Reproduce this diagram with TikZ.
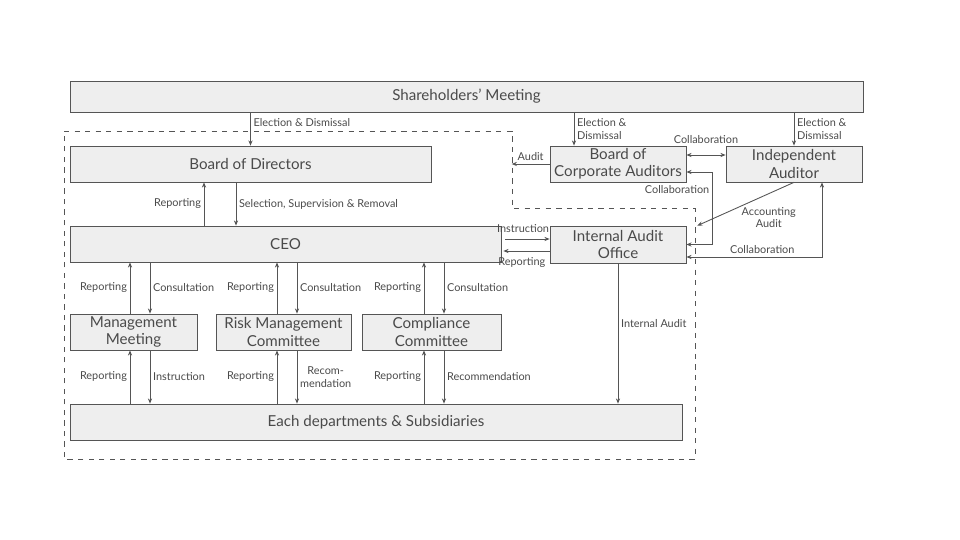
\documentclass[tikz,border=0pt]{standalone}
\usepackage{fontspec}
\setmainfont{Lato}
\usetikzlibrary{arrows.meta,positioning,calc}

\definecolor{boxfill}{HTML}{EEEEEE}
\definecolor{boxline}{HTML}{555555}
\definecolor{inkgray}{HTML}{4A4A4A}

\tikzset{
  box/.style={rectangle, draw=boxline, fill=boxfill, text=inkgray, align=center,
    inner sep=1pt, font=\fontsize{8.6}{9.8}\selectfont, minimum height=0.72cm},
  lbl/.style={text=inkgray, font=\fontsize{6.2}{7}\selectfont, inner sep=1.5pt, align=left},
  arr/.style={draw=boxline, line width=0.5pt, -{Stealth[length=3pt,width=2.4pt]}},
  arrboth/.style={draw=boxline, line width=0.5pt, {Stealth[length=3pt,width=2.4pt]}-{Stealth[length=3pt,width=2.4pt]}}
}

\begin{document}
\begin{tikzpicture}[x=0.02cm, y=-0.02cm]
        \useasboundingbox (0,0) rectangle (960,540);

        % Governance boundary
        \draw[boxline, dashed, line width=0.5pt] (64,131) -- (512,131) -- (512,208) -- (695,208) -- (695,459) -- (64,459) -- cycle;

        % Boxes
        \node (share) [box, minimum width=15.86cm, minimum height=0.62cm] at (466.5,96.5) {Shareholders' Meeting};
        \node (bod) [box, minimum width=7.22cm] at (250.5,164) {Board of Directors};
        \node (ceo) [box, minimum width=8.62cm] at (285.5,244) {CEO};
        \node (bca) [box, minimum width=2.72cm] at (618,164) {Board of\\Corporate Auditors};
        \node (ia) [box, minimum width=2.72cm] at (794,164) {Independent\\Auditor};
        \node (iao) [box, minimum width=2.72cm, minimum height=0.74cm] at (618,244.5) {Internal Audit\\Office};
        \node (mm) [box, minimum width=2.54cm] at (133.5,332) {Management\\Meeting};
        \node (rmc) [box, minimum width=2.7cm] at (283.5,332) {Risk Management\\Committee};
        \node (cc) [box, minimum width=2.78cm] at (431.5,332) {Compliance\\Committee};
        \node (dept) [box, minimum width=12.24cm] at (376,422) {Each departments \& Subsidiaries};

        % Shareholders
        \draw[arr] (share.south -| bod.north) -- node[lbl, right, pos=0.3] {Election \& Dismissal} (bod.north);
        \draw[arr] ([xshift=-0.88cm]bca.north |- share.south) -- node[lbl, right] {Election \&\\Dismissal} ([xshift=-0.88cm]bca.north);
        \draw[arr] (ia.north |- share.south) -- node[lbl, right] {Election \&\\Dismissal} (ia.north);

        % Board and CEO
        \draw[arr] ([xshift=-1.63cm]ceo.north) -- node[lbl, left] {Reporting} ([xshift=-1.63cm]ceo.north |- bod.south);
        \draw[arr] ([xshift=-0.99cm]ceo.north |- bod.south) -- node[lbl, right] {Selection, Supervision \& Removal} ([xshift=-0.99cm]ceo.north);

        % Auditors
        \coordinate (auditend) at ([xshift=-0.76cm]bca.west);
        \draw[arr] (bca.west) -- node[lbl, above] {Audit} (auditend);
        \draw[arrboth] ([yshift=0.18cm]bca.east) -- node[lbl, above=5pt] {Collaboration} ([yshift=0.18cm]ia.west);
        \draw[arr] (ia.south) -- node[lbl, below right=0pt and -4pt, align=center] {Accounting\\Audit} ([xshift=0.22cm]iao.north east);
        \draw[arrboth] ([yshift=-0.16cm]bca.east) -| node[lbl, left, pos=0.62] {Collaboration} ([xshift=0.52cm]iao.east) -- (iao.east);
        \draw[arrboth] ([xshift=0.56cm]ia.south) |- node[lbl, above, pos=0.72] {Collaboration} ([yshift=-0.25cm]iao.east);

        % CEO and Internal Audit Office
        \draw[arr] ([yshift=0.1cm, xshift=0.08cm]ceo.east) -- node[lbl, above=2pt, pos=0.4] {Instruction} ([yshift=0.1cm]ceo.east -| iao.west);
        \draw[arr] ([yshift=-0.14cm]ceo.east -| iao.west) -- node[lbl, below=2pt, pos=0.6] {Reporting} ([yshift=-0.14cm, xshift=0.04cm]ceo.east);
        \draw[arr] (iao.south) -- node[lbl, right, pos=0.43] {Internal Audit} (iao.south |- dept.north);

        % CEO and committees
        \draw[arr] ([xshift=-0.07cm]mm.north) -- node[lbl, left] {Reporting} ([xshift=-0.07cm]mm.north |- ceo.south);
        \draw[arr] ([xshift=0.33cm]mm.north |- ceo.south) -- node[lbl, right] {Consultation} ([xshift=0.33cm]mm.north);
        \draw[arr] ([xshift=-0.13cm]rmc.north) -- node[lbl, left] {Reporting} ([xshift=-0.13cm]rmc.north |- ceo.south);
        \draw[arr] ([xshift=0.27cm]rmc.north |- ceo.south) -- node[lbl, right] {Consultation} ([xshift=0.27cm]rmc.north);
        \draw[arr] ([xshift=-0.15cm]cc.north) -- node[lbl, left] {Reporting} ([xshift=-0.15cm]cc.north |- ceo.south);
        \draw[arr] ([xshift=0.25cm]cc.north |- ceo.south) -- node[lbl, right] {Consultation} ([xshift=0.25cm]cc.north);

        % Committees and departments
        \draw[arr] ([xshift=-0.07cm]mm.south |- dept.north) -- node[lbl, left] {Reporting} ([xshift=-0.07cm]mm.south);
        \draw[arr] ([xshift=0.33cm]mm.south) -- node[lbl, right] {Instruction} ([xshift=0.33cm]mm.south |- dept.north);
        \draw[arr] ([xshift=-0.13cm]rmc.south |- dept.north) -- node[lbl, left] {Reporting} ([xshift=-0.13cm]rmc.south);
        \draw[arr] ([xshift=0.27cm]rmc.south) -- node[lbl, right, align=center] {Recom-\\mendation} ([xshift=0.27cm]rmc.south |- dept.north);
        \draw[arr] ([xshift=-0.15cm]cc.south |- dept.north) -- node[lbl, left] {Reporting} ([xshift=-0.15cm]cc.south);
        \draw[arr] ([xshift=0.25cm]cc.south) -- node[lbl, right] {Recommendation} ([xshift=0.25cm]cc.south |- dept.north);
\end{tikzpicture}
\end{document}
